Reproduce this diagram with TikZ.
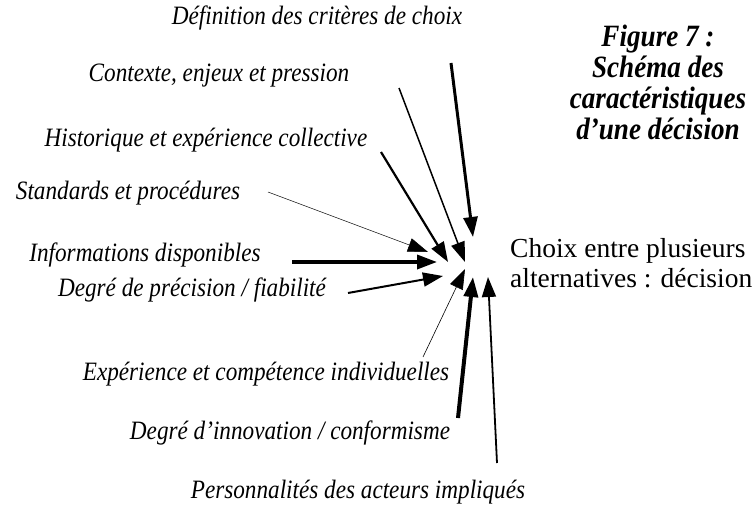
\documentclass[tikz,border=0pt]{standalone}
\usepackage{fontspec}
\setmainfont{Liberation Serif}
\newfontfamily\etroit{Liberation Serif}[FakeStretch=0.875]
\usetikzlibrary{arrows.meta}

\begin{document}
\begin{tikzpicture}[x=1pt,y=-1pt,>={Triangle[length=20pt,width=14pt]},
  facteur/.style={font=\etroit\fontsize{26.5}{30}\selectfont\itshape,inner sep=0pt},
  fl/.style={->,line width=#1}]
\useasboundingbox (0,0) rectangle (753,508);
\node[facteur] (crit) at (317,18) {Définition des critères de choix};
\node[facteur] (ctx) at (219,76) {Contexte, enjeux et pression};
\node[facteur] (hist) at (206,140) {Historique et expérience collective};
\node[facteur] (std) at (128,193) {Standards et procédures};
\node[facteur] (info) at (145,255) {Informations disponibles};
\node[facteur] (prec) at (192,290) {Degré de précision / fiabilité};
\node[facteur] (exp) at (266,374) {Expérience et compétence individuelles};
\node[facteur] (inno) at (290,433) {Degré d’innovation / conformisme};
\node[facteur] (pers) at (358,492) {Personnalités des acteurs impliqués};
\node[anchor=west,align=left,inner sep=0pt,font=\fontsize{27.5}{30.5}\selectfont] (choix) at (510,263) {Choix entre plusieurs\\alternatives : décision};
\node[align=center,inner sep=0pt,font=\etroit\fontsize{31}{31}\selectfont\bfseries\itshape] (titre) at (658,82) {Figure 7 :\\Schéma des\\caractéristiques\\d’une décision};
\coordinate (critA) at (451,63); \coordinate (critB) at (473,237);
\coordinate (ctxA) at (399,88); \coordinate (ctxB) at (465,262);
\coordinate (histA) at (381,152); \coordinate (histB) at (448,262);
\coordinate (stdA) at (268,192); \coordinate (stdB) at (428,252);
\coordinate (infoA) at (292,262); \coordinate (infoB) at (437,262);
\coordinate (precA) at (348,293); \coordinate (precB) at (443,276);
\coordinate (expA) at (423,357); \coordinate (expB) at (465,269);
\coordinate (innoA) at (458,418); \coordinate (innoB) at (473,277);
\coordinate (persA) at (497,463); \coordinate (persB) at (488,277);
\draw[fl=3pt] (critA) -- (critB);
\draw[fl=1.5pt] (ctxA) -- (ctxB);
\draw[fl=2.2pt] (histA) -- (histB);
\draw[fl=0.5pt] (stdA) -- (stdB);
\draw[fl=3.5pt] (infoA) -- (infoB);
\draw[fl=2pt] (precA) -- (precB);
\draw[fl=0.6pt] (expA) -- (expB);
\draw[fl=4pt] (innoA) -- (innoB);
\draw[fl=1.8pt] (persA) -- (persB);
\end{tikzpicture}
\end{document}
